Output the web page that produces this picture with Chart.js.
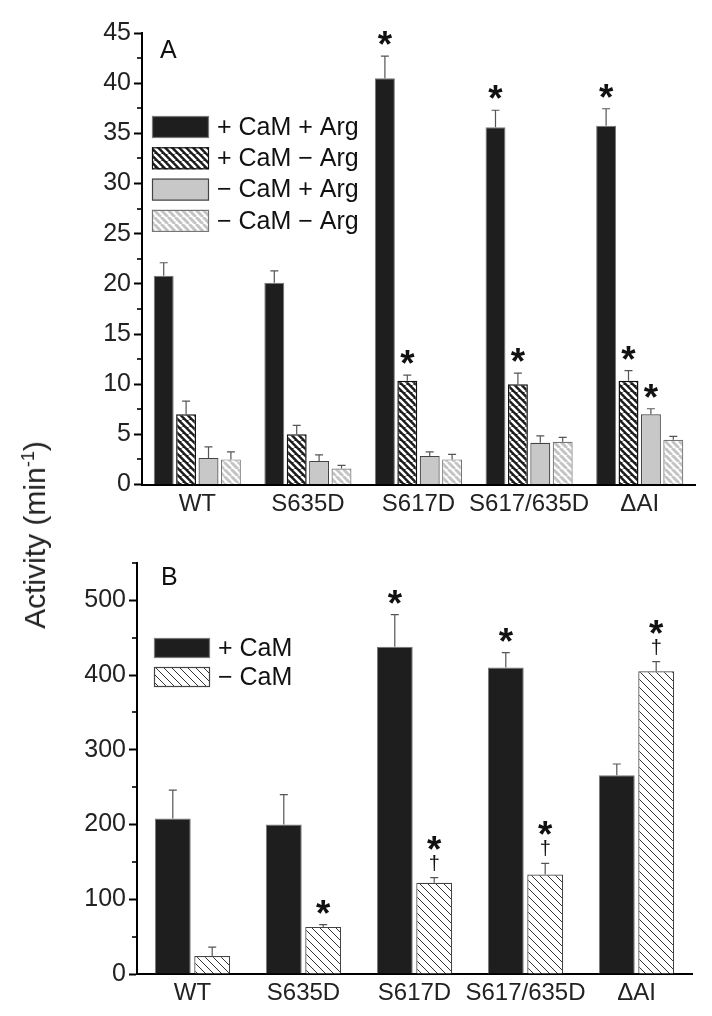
<!DOCTYPE html>
<html>
<head>
<meta charset="utf-8">
<script src="https://cdn.jsdelivr.net/npm/chart.js@4.4.1/dist/chart.umd.min.js"></script>
<style>
  body { margin: 0; background: #fff; width: 712px; height: 1016px; position: relative; overflow: hidden; font-family: "Liberation Sans", Arial, sans-serif; }
  #wrapA { position: absolute; left: 0; top: 0; }
  #wrapB { position: absolute; left: 0; top: 520px; }
  #ylabel { position: absolute; left: 35px; top: 535px; transform: translate(-50%, -50%) rotate(-90deg); font-size: 30px; white-space: nowrap; color: #222; }
  #ylabel sup { font-size: 0.6em; }
</style>
</head>
<body>
<div id="wrapA"><canvas id="chartA" width="712" height="520"></canvas></div>
<div id="wrapB"><canvas id="chartB" width="712" height="496"></canvas></div>
<div id="ylabel">Activity (min<sup>-1</sup>)</div>
<script>
const groups = ["WT", "S635D", "S617D", "S617/635D", "ΔAI"];

// panel A
const camArg = [20.8, 20.1, 40.5, 35.6, 35.75];
const camArgErr = [1.3, 1.2, 2.2, 1.7, 1.7];
const camNoArg = [7.0, 5.0, 10.35, 10.0, 10.35];
const camNoArgErr = [1.3, 0.9, 0.55, 1.1, 1.0];
const noCamArg = [2.65, 2.35, 2.85, 4.15, 7.0];
const noCamArgErr = [1.1, 0.6, 0.4, 0.7, 0.55];
const noCamNoArg = [2.5, 1.6, 2.5, 4.25, 4.45];
const noCamNoArgErr = [0.75, 0.3, 0.5, 0.45, 0.35];
const starsA = [[0, 0, 1, 1, 1], [0, 0, 1, 1, 1], [0, 0, 0, 0, 1], [0, 0, 0, 0, 0]];
const minorA = [2.5, 7.5, 12.5, 17.5, 22.5, 27.5, 32.5, 37.5, 42.5];

// panel B
const plusCaM = [208, 200, 438, 410, 266];
const plusCaMErr = [38, 40, 43, 20, 15];
const minusCaM = [24, 63, 122, 133, 405];
const minusCaMErr = [12, 3, 7, 15, 13];
const starsB = [[0, 0, 1, 1, 0], [0, 1, 1, 1, 1]];
const daggersB = [[0, 0, 0, 0, 0], [0, 0, 1, 1, 1]];
const minorB = [50, 150, 250, 350, 450, 550];

const FONT = '"Liberation Sans", Arial, sans-serif';

const makeHatch = (bg, fg, size, width) => {
  const c = document.createElement("canvas");
  c.width = size;
  c.height = size;
  const g = c.getContext("2d");
  g.fillStyle = bg;
  g.fillRect(0, 0, size, size);
  g.strokeStyle = fg;
  g.lineWidth = width;
  g.beginPath();
  [-size, 0, size].forEach((k) => {
    g.moveTo(k, 0);
    g.lineTo(k + size, size);
  });
  g.stroke();
  return g.createPattern(c, "repeat");
};

const ctxA = document.getElementById("chartA").getContext("2d");
const blackStripes = makeHatch("#1c1c1c", "#ffffff", 7, 2.6);
const greyStripes = makeHatch("#ffffff", "#c4c4c4", 7, 3);
const thinStripes = makeHatch("#ffffff", "#333333", 8, 1);

const drawGlyph = (ctx, ch, x, cy, weight, h) => {
  ctx.font = `${weight} 100px ${FONT}`;
  let m = ctx.measureText(ch);
  const size = (100 * h) / (m.actualBoundingBoxAscent + m.actualBoundingBoxDescent);
  ctx.font = `${weight} ${size}px ${FONT}`;
  m = ctx.measureText(ch);
  ctx.fillStyle = "#111";
  ctx.textAlign = "center";
  ctx.textBaseline = "alphabetic";
  ctx.fillText(ch, x, cy + (m.actualBoundingBoxAscent - m.actualBoundingBoxDescent) / 2);
};

// error bars, asterisks and daggers
const marksPlugin = {
  id: "marks",
  afterDatasetsDraw(chart) {
    const ctx = chart.ctx;
    const yScale = chart.scales.y;
    chart.data.datasets.forEach((ds, di) => {
      const meta = chart.getDatasetMeta(di);
      meta.data.forEach((bar, i) => {
        const yTop = yScale.getPixelForValue(ds.data[i] + ds.err[i]);
        ctx.save();
        ctx.strokeStyle = "#555";
        ctx.lineWidth = 1.2;
        ctx.beginPath();
        ctx.moveTo(bar.x, bar.y);
        ctx.lineTo(bar.x, yTop);
        ctx.moveTo(bar.x - 4, yTop);
        ctx.lineTo(bar.x + 4, yTop);
        ctx.stroke();
        const dag = ds.daggers && ds.daggers[i];
        if (ds.stars && ds.stars[i]) drawGlyph(ctx, "*", bar.x, yTop - (dag ? 35 : 18), "bold", 14);
        if (dag) drawGlyph(ctx, "†", bar.x, yTop - 15, "normal", 16);
        ctx.restore();
      });
    });
  },
};

const minorTicksPlugin = {
  id: "minorTicks",
  afterDraw(chart, args, opts) {
    const ctx = chart.ctx;
    const yScale = chart.scales.y;
    const x0 = chart.chartArea.left;
    ctx.save();
    ctx.strokeStyle = "#000";
    ctx.lineWidth = 1.6;
    opts.values.forEach((v) => {
      const py = Math.round(yScale.getPixelForValue(v));
      ctx.beginPath();
      ctx.moveTo(x0 - 5, py);
      ctx.lineTo(x0, py);
      ctx.stroke();
    });
    ctx.restore();
  },
};

const panelLegendPlugin = {
  id: "panelLegend",
  afterDraw(chart, args, opts) {
    const ctx = chart.ctx;
    ctx.save();
    ctx.font = `25px ${FONT}`;
    ctx.fillStyle = "#111";
    ctx.textAlign = "left";
    ctx.textBaseline = "alphabetic";
    ctx.fillText(opts.letter, opts.letterX, opts.letterY);
    chart.data.datasets.forEach((ds, i) => {
      const top = opts.top + i * opts.step;
      ctx.fillStyle = ds.backgroundColor;
      ctx.fillRect(opts.left, top, opts.boxW, opts.boxH);
      ctx.strokeStyle = ds.borderColor;
      ctx.lineWidth = 1.2;
      ctx.strokeRect(opts.left + 0.5, top + 0.5, opts.boxW - 1, opts.boxH - 1);
      ctx.fillStyle = "#111";
      ctx.textBaseline = "middle";
      ctx.fillText(ds.label, opts.textX, top + opts.boxH / 2 + 1);
    });
    ctx.restore();
  },
};

const makeOptions = (yMax, step, axisLeft, xHeight, padTop, padRight, keepTick, minor, legend) => ({
  responsive: false,
  animation: false,
  layout: { padding: { top: padTop, right: padRight, left: 0, bottom: 0 } },
  scales: {
    x: {
      grid: { display: false, drawTicks: false },
      border: { display: true, color: "#000", width: 2 },
      ticks: { font: { family: FONT, size: 24 }, color: "#222", padding: 5, maxRotation: 0, autoSkip: false },
      afterFit: (s) => { s.height = xHeight; },
    },
    y: {
      min: 0,
      max: yMax,
      ticks: { stepSize: step, font: { family: FONT, size: 25 }, color: "#222", padding: 3 },
      grid: { drawOnChartArea: false, drawTicks: true, tickLength: 8, tickWidth: 2, tickColor: "#000" },
      border: { display: true, color: "#000", width: 2 },
      afterBuildTicks: (s) => { s.ticks = s.ticks.filter((t) => keepTick(t.value)); },
      afterFit: (s) => { s.width = axisLeft; },
    },
  },
  plugins: {
    legend: { display: false },
    tooltip: { enabled: false },
    minorTicks: { values: minor },
    panelLegend: legend,
  },
});

new Chart(ctxA, {
  type: "bar",
  data: {
    labels: groups,
    datasets: [
      { label: "+ CaM + Arg", data: camArg, err: camArgErr, stars: starsA[0], backgroundColor: "#1e1e1e", borderColor: "#777", borderWidth: 1 },
      { label: "+ CaM − Arg", data: camNoArg, err: camNoArgErr, stars: starsA[1], backgroundColor: blackStripes, borderColor: "#111", borderWidth: 1.5 },
      { label: "− CaM + Arg", data: noCamArg, err: noCamArgErr, stars: starsA[2], backgroundColor: "#c8c8c8", borderColor: "#444", borderWidth: 1.2 },
      { label: "− CaM − Arg", data: noCamNoArg, err: noCamNoArgErr, stars: starsA[3], backgroundColor: greyStripes, borderColor: "#777", borderWidth: 1.2 },
    ].map((d) => ({ ...d, categoryPercentage: 0.81, barPercentage: 0.89 })),
  },
  options: makeOptions(45, 5, 142, 35.5, 33, 17, () => true, minorA,
    { letter: "A", letterX: 160, letterY: 58, left: 152, top: 116, step: 31.3, boxW: 57, boxH: 22, textX: 217 }),
  plugins: [marksPlugin, minorTicksPlugin, panelLegendPlugin],
});

new Chart(document.getElementById("chartB").getContext("2d"), {
  type: "bar",
  data: {
    labels: groups,
    datasets: [
      { label: "+ CaM", data: plusCaM, err: plusCaMErr, stars: starsB[0], daggers: daggersB[0], backgroundColor: "#1e1e1e", borderColor: "#777", borderWidth: 1 },
      { label: "− CaM", data: minusCaM, err: minusCaMErr, stars: starsB[1], daggers: daggersB[1], backgroundColor: thinStripes, borderColor: "#444", borderWidth: 1.2 },
    ].map((d) => ({ ...d, categoryPercentage: 0.71, barPercentage: 0.91 })),
  },
  options: makeOptions(550, 100, 137, 42, 43, 20, (v) => v % 100 === 0, minorB,
    { letter: "B", letterX: 161, letterY: 65, left: 154, top: 118, step: 29, boxW: 56, boxH: 20, textX: 218 }),
  plugins: [marksPlugin, minorTicksPlugin, panelLegendPlugin],
});
</script>
</body>
</html>
